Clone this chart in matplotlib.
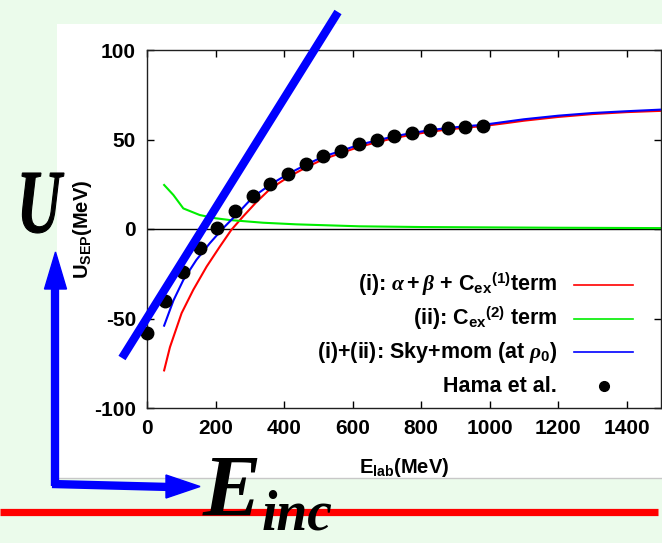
import matplotlib
matplotlib.use('Agg')
import matplotlib.pyplot as plt
from matplotlib.patches import Rectangle, Polygon, PathPatch
from matplotlib.textpath import TextPath
from matplotlib.font_manager import FontProperties
from matplotlib.transforms import Affine2D

# ---------------- data ----------------
hama_E = [0, 52, 104, 154, 205, 257, 310, 360, 412, 465, 515, 567, 618, 671, 722, 773, 825, 877, 929, 981]
hama_U = [-58, -40, -24, -10.5, 0.5, 10, 18.4, 25, 31, 36.3, 40.6, 43.7, 47.3, 49.7, 52, 53.8, 55.3, 56.4, 57.2, 57.7]

red_E = [50, 67, 101, 135, 174, 212, 246, 280, 319, 360, 412, 465, 515, 567, 618, 671, 722, 773, 825, 877, 929, 981, 1050, 1100, 1200, 1300, 1400, 1500]
red_U = [-79, -66, -47, -34, -21, -10, -0.5, 6.9, 15, 22.5, 29, 34.5, 39, 42.5, 45.8, 48.5, 50.8, 52.7, 54.3, 55.6, 56.6, 57.5, 59.2, 60.5, 62.6, 64.2, 65.3, 66.0]

green_E = [50, 77, 106, 154, 200, 242, 339, 436, 620, 800, 1000, 1200, 1500]
green_U = [24.6, 19, 11.5, 7.8, 6, 5, 3.5, 2.6, 1.5, 1.1, 0.9, 0.7, 0.5]

blue_E = [50, 77, 106, 144, 183, 222, 261, 310, 360, 412, 465, 515, 567, 618, 671, 722, 773, 825, 877, 929, 981, 1050, 1100, 1200, 1300, 1400, 1500]
blue_U = [-54, -40, -28.5, -17.3, -8, 0.4, 8, 18, 24.8, 30.8, 36, 40.5, 43.7, 47, 49.5, 51.8, 53.6, 55.2, 56.4, 57.4, 58.2, 60, 61.3, 63.3, 64.8, 65.8, 66.7]

x_ticks = [0, 200, 400, 600, 800, 1000, 1200, 1400]
y_ticks = [-100, -50, 0, 50, 100]

labels = [r"(i): $\alpha + \beta$ + C$_{\mathrm{ex}}$$^{\mathrm{(1)}}$term",
          r"(ii): C$_{\mathrm{ex}}$$^{\mathrm{(2)}}$ term",
          r"(i)+(ii): Sky+mom (at $\rho_{\mathrm{0}}$)",
          "Hama et al."]

# ---------------- style ----------------
plt.rcParams['font.family'] = ['Liberation Sans', 'DejaVu Sans']
plt.rcParams['font.weight'] = 'bold'
plt.rcParams['axes.unicode_minus'] = False
plt.rcParams['mathtext.fontset'] = 'custom'
plt.rcParams['mathtext.rm'] = 'Liberation Sans:bold'
plt.rcParams['mathtext.bf'] = 'Liberation Sans:bold'
plt.rcParams['mathtext.sf'] = 'Liberation Sans:bold'
plt.rcParams['mathtext.it'] = 'Liberation Serif:italic'

W, H = 662, 543
fig = plt.figure(figsize=(W / 100, H / 100), dpi=100, facecolor='#ebfbeb')

# white slide panel (drawn in a background axes)
bg = fig.add_axes([0, 0, 1, 1], zorder=0)
bg.set_xlim(0, W)
bg.set_ylim(H, 0)
bg.axis('off')
bg.patch.set_alpha(0)
bg.add_patch(Rectangle((57, 24), W - 57, 478 - 24, facecolor='white', edgecolor='none'))
bg.plot([57, W], [478, 478], color='#c8c8c8', lw=1)

ax = fig.add_axes([147 / W, 1 - 408 / H, (661 - 147) / W, (408 - 50) / H], zorder=1)
ax.set_facecolor('white')
ax.set_xlim(0, 1500)
ax.set_ylim(-100, 100)
ax.set_xticks(x_ticks)
ax.set_yticks(y_ticks)
ax.tick_params(direction='in', top=True, right=True, length=5, width=1,
               labelsize=15, pad=8)
for lab in ax.get_xticklabels() + ax.get_yticklabels():
    lab.set_fontweight('bold')
for s in ax.spines.values():
    s.set_linewidth(1)
    s.set_color('#202020')

ax.axhline(0, color='black', lw=1, zorder=1)
ax.plot(red_E, red_U, color='#ff0000', lw=1.5, zorder=2)
ax.plot(green_E, green_U, color='#00ee00', lw=1.5, zorder=2)
ax.plot(blue_E, blue_U, color='#0000ff', lw=1.5, zorder=3)
ax.plot(hama_E, hama_U, 'o', color='black', ms=9, zorder=4, clip_on=False)

ax.set_xlabel(r"E$_{\mathrm{lab}}$(MeV)", fontsize=14.5, fontweight='bold')
ax.set_ylabel(r"U$_{\mathrm{SEP}}$(MeV)", fontsize=14.5, fontweight='bold')
ax.xaxis.set_label_coords(0.5, -0.135)
ax.yaxis.set_label_coords(-0.104, 0.5)

# legend (text right aligned, handle on the right)
leg_y = [0.344, 0.249, 0.156, 0.061]
leg_colors = ['#ff0000', '#00ee00', '#0000ff']
for i, lab in enumerate(labels):
    ax.text(0.798, leg_y[i], lab, transform=ax.transAxes, ha='right', va='center',
            fontsize=15.5, fontweight='bold', zorder=5)
    if i < 3:
        ax.plot([0.831, 0.946], [leg_y[i], leg_y[i]], transform=ax.transAxes,
                color=leg_colors[i], lw=1.2, zorder=5)
    else:
        ax.plot([0.889], [leg_y[i]], 'o', transform=ax.transAxes, color='black',
                ms=7, zorder=5)

# ---------------- slide overlays (pixel coordinates) ----------------
ov = fig.add_axes([0, 0, 1, 1], zorder=10)
ov.set_xlim(0, W)
ov.set_ylim(H, 0)
ov.axis('off')
ov.patch.set_alpha(0)

BLUE = '#0000ff'
# thick diagonal line
ov.plot([122, 338], [358, 12], color=BLUE, lw=6, solid_capstyle='butt')
# vertical arrow
ov.plot([55, 55], [486, 282], color=BLUE, lw=6, solid_capstyle='butt')
ov.add_patch(Polygon([[55.5, 252], [44.5, 289], [66.5, 289]], closed=True, color=BLUE))
# horizontal arrow
ov.plot([52, 170], [484, 487], color=BLUE, lw=6, solid_capstyle='butt')
ov.add_patch(Polygon([[200, 486.5], [166, 475], [166, 498]], closed=True, color=BLUE))
# red separator line
ov.plot([0, 658], [512, 512], color='#ff0000', lw=5.2, solid_capstyle='butt', zorder=1)

serif_bi = FontProperties(family='Liberation Serif', weight='bold', style='italic')
# condensed big U
tp = TextPath((0, 0), "U", size=86, prop=serif_bi)
bb = tp.get_extents()
sx = 42 / bb.width
sy = 60 / bb.height
tr = Affine2D().translate(-bb.x0, -bb.y0).scale(sx, -sy).translate(22, 233)
ov.add_patch(PathPatch(tr.transform_path(tp), facecolor='black', edgecolor='black',
                       lw=0.8, zorder=3))

# E_inc
ov.text(203, 516, "E", fontproperties=serif_bi, fontsize=63, color='black',
        va='baseline', ha='left', zorder=3)
ov.text(262, 542, "inc", fontproperties=serif_bi, fontsize=40, color='black',
        va='bottom', ha='left', zorder=3)

plt.savefig('out.png', dpi=100, facecolor=fig.get_facecolor())
